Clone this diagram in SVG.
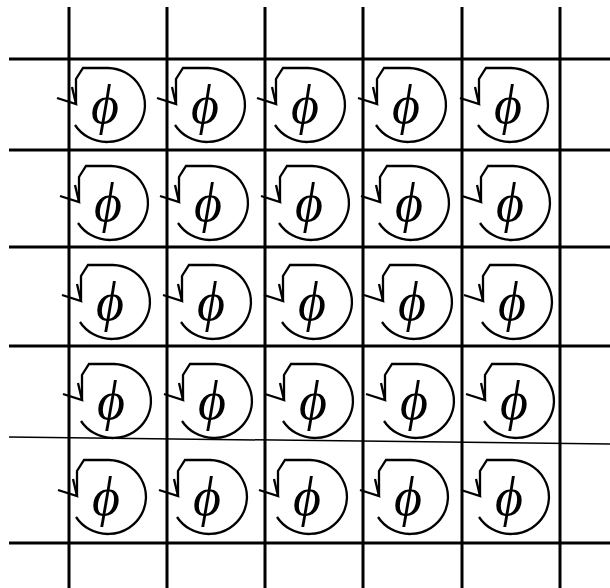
<svg xmlns="http://www.w3.org/2000/svg" xmlns:xlink="http://www.w3.org/1999/xlink" width="610" height="588" viewBox="0 0 610 588">
<style>
.grid{stroke:#000;stroke-width:3;fill:none}
.thin{stroke:#000;stroke-width:1.5;fill:none}
.loop{stroke:#000;stroke-width:2.3;fill:none;stroke-linejoin:miter}
.phi{font-family:"Liberation Serif","DejaVu Serif",serif;font-style:italic;font-size:54px;text-anchor:middle;fill:#000}
</style>
<defs>
<g id="loop">
<path class="loop" d="M -30 17 A 38 37 0 1 0 3 -40 L -22 -40 L -29 -29 L -29 -4"/>
<path class="loop" d="M -48 -10 L -29 -4 L -33 -21"/>
</g>
</defs>
<rect width="610" height="588" fill="#fff"/>
<g id="connectors">
<path class="grid" d="M69 7V588M167 7V588M265 7V588M363 7V588M462 7V588M560 7V588"/>
<path class="grid" d="M9 59H610M9 150H610M9 247H610M9 346H610M9 543H610"/>
<path class="thin" d="M9 437L610 444"/>
</g>
<g id="r1c1"><use xlink:href="#loop" x="105" y="108"/><text class="phi" x="105" y="123">ϕ</text></g>
<g id="r1c2"><use xlink:href="#loop" x="205" y="108"/><text class="phi" x="205" y="123">ϕ</text></g>
<g id="r1c3"><use xlink:href="#loop" x="305" y="108"/><text class="phi" x="305" y="123">ϕ</text></g>
<g id="r1c4"><use xlink:href="#loop" x="406" y="108"/><text class="phi" x="406" y="123">ϕ</text></g>
<g id="r1c5"><use xlink:href="#loop" x="508" y="108"/><text class="phi" x="508" y="123">ϕ</text></g>
<g id="r2c1"><use xlink:href="#loop" x="108" y="206"/><text class="phi" x="108" y="221">ϕ</text></g>
<g id="r2c2"><use xlink:href="#loop" x="208" y="206"/><text class="phi" x="208" y="221">ϕ</text></g>
<g id="r2c3"><use xlink:href="#loop" x="309" y="206"/><text class="phi" x="309" y="221">ϕ</text></g>
<g id="r2c4"><use xlink:href="#loop" x="409" y="206"/><text class="phi" x="409" y="221">ϕ</text></g>
<g id="r2c5"><use xlink:href="#loop" x="510" y="206"/><text class="phi" x="510" y="221">ϕ</text></g>
<g id="r3c1"><use xlink:href="#loop" x="110" y="305"/><text class="phi" x="110" y="320">ϕ</text></g>
<g id="r3c2"><use xlink:href="#loop" x="211" y="305"/><text class="phi" x="211" y="320">ϕ</text></g>
<g id="r3c3"><use xlink:href="#loop" x="312" y="305"/><text class="phi" x="312" y="320">ϕ</text></g>
<g id="r3c4"><use xlink:href="#loop" x="412" y="305"/><text class="phi" x="412" y="320">ϕ</text></g>
<g id="r3c5"><use xlink:href="#loop" x="512" y="305"/><text class="phi" x="512" y="320">ϕ</text></g>
<g id="r4c1"><use xlink:href="#loop" x="111" y="404"/><text class="phi" x="111" y="419">ϕ</text></g>
<g id="r4c2"><use xlink:href="#loop" x="212" y="404"/><text class="phi" x="212" y="419">ϕ</text></g>
<g id="r4c3"><use xlink:href="#loop" x="313" y="404"/><text class="phi" x="313" y="419">ϕ</text></g>
<g id="r4c4"><use xlink:href="#loop" x="414" y="404"/><text class="phi" x="414" y="419">ϕ</text></g>
<g id="r4c5"><use xlink:href="#loop" x="514" y="404"/><text class="phi" x="514" y="419">ϕ</text></g>
<g id="r5c1"><use xlink:href="#loop" x="106" y="500"/><text class="phi" x="106" y="515">ϕ</text></g>
<g id="r5c2"><use xlink:href="#loop" x="207" y="500"/><text class="phi" x="207" y="515">ϕ</text></g>
<g id="r5c3"><use xlink:href="#loop" x="307" y="500"/><text class="phi" x="307" y="515">ϕ</text></g>
<g id="r5c4"><use xlink:href="#loop" x="408" y="500"/><text class="phi" x="408" y="515">ϕ</text></g>
<g id="r5c5"><use xlink:href="#loop" x="509" y="500"/><text class="phi" x="509" y="515">ϕ</text></g>
</svg>
